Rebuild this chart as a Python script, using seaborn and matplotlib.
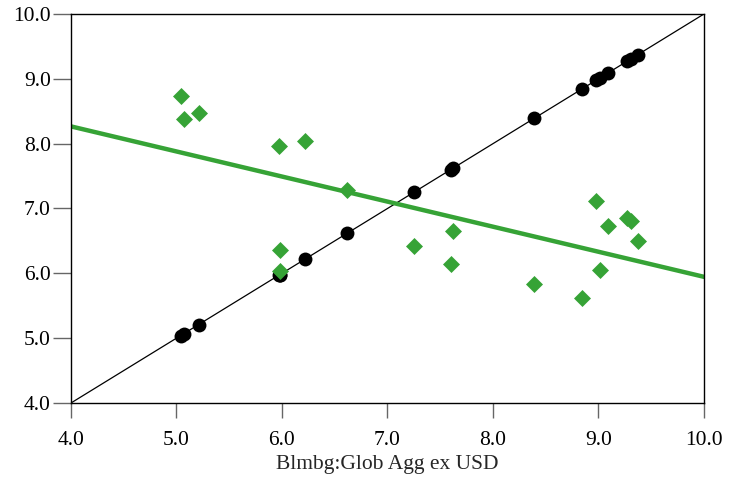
import numpy as np
import pandas as pd
import seaborn as sns
import matplotlib
matplotlib.use("Agg")
import matplotlib.pyplot as plt

# yields: x axis series, and the other series
x_yield = [5.04, 5.07, 5.21, 5.97, 5.98, 5.98, 6.22, 6.62, 7.25, 7.60, 7.62,
           8.39, 8.84, 8.98, 9.01, 9.09, 9.27, 9.31, 9.37]
y_other = [8.73, 8.38, 8.47, 7.96, 6.36, 6.04, 8.04, 7.29, 6.42, 6.14, 6.65,
           5.83, 5.62, 7.12, 6.05, 6.73, 6.86, 6.80, 6.50]
x_label = "Blmbg:Glob Agg ex USD"
ticks = [4.0, 5.0, 6.0, 7.0, 8.0, 9.0, 10.0]

df = pd.DataFrame({"x": x_yield, "y": y_other})

sns.set_style("ticks")
plt.rcParams["font.family"] = ["Liberation Serif", "DejaVu Serif"]

fig = plt.figure(figsize=(7.38, 4.79), dpi=100)
ax = fig.add_axes([0.0962, 0.1587, 0.8577, 0.8121])

green = "#36a336"

# 45 degree line
ax.plot([ticks[0], ticks[-1]], [ticks[0], ticks[-1]], color="black", lw=0.9, zorder=1)

# regression line of the green series
sns.regplot(data=df, x="x", y="y", scatter=False, ci=None, truncate=False,
            line_kws={"color": green, "lw": 3.2, "zorder": 2}, ax=ax)

# black dots on the diagonal
sns.scatterplot(x=x_yield, y=x_yield, color="black", s=100, marker="o",
                edgecolor="black", linewidth=0, zorder=3, ax=ax)
# green diamonds
sns.scatterplot(data=df, x="x", y="y", color=green, s=75, marker="D",
                linewidth=0, zorder=4, ax=ax)

ax.set_xlim(ticks[0], ticks[-1])
ax.set_ylim(ticks[0], ticks[-1])
ax.set_xticks(ticks)
ax.set_yticks(ticks)
ax.set_xticklabels([f"{t:.1f}" for t in ticks])
ax.set_yticklabels([f"{t:.1f}" for t in ticks])
ax.tick_params(axis="y", direction="out", length=13, width=1, color="#666666",
               labelsize=15.5, pad=1.5, labelcolor="black")
ax.tick_params(axis="x", direction="out", length=11, width=1, color="#666666",
               labelsize=15.5, pad=9, labelcolor="black")
for s in ax.spines.values():
    s.set_visible(True)
    s.set_color("black")
    s.set_linewidth(1.0)

ax.set_xlabel(x_label, fontsize=15.5, labelpad=4)
ax.set_ylabel("")

fig.savefig("out.png", dpi=100)
